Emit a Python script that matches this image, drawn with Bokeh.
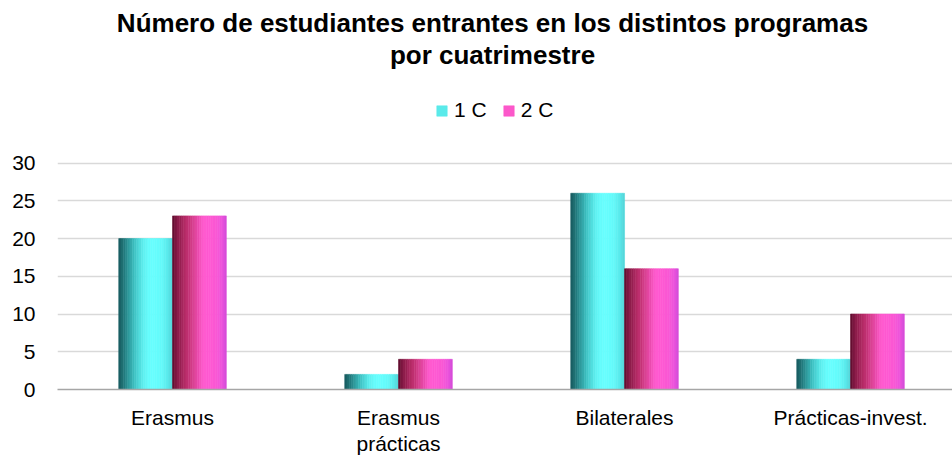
import numpy as np
from bokeh.plotting import figure
from bokeh.models import ColumnDataSource, Range1d, FixedTicker, Label, Legend, LegendItem
from bokeh.transform import dodge
from bokeh.embed import file_html
from bokeh.resources import INLINE

# ---------------- data ----------------
categories = ["Erasmus", "Erasmus\nprácticas", "Bilaterales", "Prácticas-invest."]
series_1c = [20, 2, 26, 4]
series_2c = [23, 4, 16, 10]
series_labels = ["1 C", "2 C"]
y_ticks = [0, 5, 10, 15, 20, 25, 30]
title_line1 = "Número de estudiantes entrantes en los distintos programas"
title_line2 = "por cuatrimestre"

# ---------------- styling ----------------
FONT = "Liberation Sans"
W, H = 952, 457
BORDER_LEFT = 57
PX_PER_X = 226.0
X_START = -0.509
frame_w = W - BORDER_LEFT
X_END = X_START + frame_w / PX_PER_X
FRAME_TOP = 0.0
FRAME_BOTTOM = 390.0
PX_PER_Y = (FRAME_BOTTOM - 163) / 30.0
Y_END = (FRAME_BOTTOM - FRAME_TOP) / PX_PER_Y
TITLE_CX = 492 - BORDER_LEFT

cyan_stops = [(0.00, "#17585c"), (0.10, "#22797c"), (0.28, "#3bbcbe"), (0.45, "#5ceeee"),
              (0.58, "#68ffff"), (0.80, "#64fafa"), (0.92, "#5ae8ea"), (1.00, "#50d2d6")]
mag_stops = [(0.00, "#5a0a28"), (0.08, "#861a46"), (0.25, "#b82c68"), (0.42, "#e0449a"),
             (0.58, "#ff5ad0"), (0.80, "#fc58d4"), (0.93, "#ec54dc"), (1.00, "#cf48d8")]


def hex2rgb(h):
    h = h.lstrip("#")
    return np.array([int(h[i:i + 2], 16) for i in (0, 2, 4)], dtype=float)


def interp(stops, t):
    for (t0, c0), (t1, c1) in zip(stops[:-1], stops[1:]):
        if t0 <= t <= t1:
            f = (t - t0) / (t1 - t0) if t1 > t0 else 0
            c = hex2rgb(c0) * (1 - f) + hex2rgb(c1) * f
            return "#%02x%02x%02x" % tuple(int(round(v)) for v in c)
    return stops[-1][1]


src = ColumnDataSource(dict(x=list(range(len(categories))), c1=series_1c, c2=series_2c))

p = figure(width=W, height=H, output_backend="svg", toolbar_location=None,
           x_range=Range1d(X_START, X_END), y_range=Range1d(0, Y_END),
           min_border_left=BORDER_LEFT, min_border_right=0, min_border_top=0,
           min_border_bottom=0, title=None)
p.outline_line_color = None
p.background_fill_color = "white"
p.border_fill_color = "white"

for text, cy in ((title_line1, 23), (title_line2, 55)):
    p.add_layout(Label(x=TITLE_CX, y=FRAME_BOTTOM - cy, x_units="screen", y_units="screen",
                       text=text, text_align="center", text_baseline="middle",
                       text_font=FONT, text_font_size="26px", text_font_style="bold",
                       text_color="#000000"))

bar_w = 0.238
n_strips = 24
reps = []
for field, stops, off0, rep_t in (("c1", cyan_stops, -bar_w, 0.45), ("c2", mag_stops, 0.0, 0.55)):
    rep = None
    best = 9
    for k in range(n_strips):
        t = (k + 0.5) / n_strips
        col = interp(stops, t)
        off = off0 + (k + 0.5) * bar_w / n_strips
        r = p.vbar(x=dodge("x", off), top=field, bottom=0, width=bar_w / n_strips,
                   fill_color=col, line_color=col, line_width=0.6, source=src)
        if abs(t - rep_t) < best:
            best = abs(t - rep_t)
            rep = r
    reps.append(rep)

legend = Legend(items=[LegendItem(label=series_labels[0], renderers=[reps[0]]),
                       LegendItem(label=series_labels[1], renderers=[reps[1]])],
                orientation="horizontal", location=(378, 267),
                glyph_width=13, glyph_height=13, label_standoff=6, spacing=15,
                padding=0, margin=0, border_line_color=None, background_fill_alpha=0,
                label_text_font=FONT, label_text_font_size="21px", label_text_color="#000000")
p.add_layout(legend)

p.yaxis.ticker = FixedTicker(ticks=y_ticks)
p.ygrid.ticker = FixedTicker(ticks=y_ticks)
p.ygrid.grid_line_color = "#d9d9d9"
p.ygrid.grid_line_width = 1.5
p.xgrid.visible = False
p.yaxis.axis_line_color = None
p.yaxis.major_tick_line_color = None
p.yaxis.minor_tick_line_color = None
p.yaxis.major_label_standoff = 16
p.yaxis.major_label_text_font = FONT
p.yaxis.major_label_text_font_size = "21px"
p.yaxis.major_label_text_color = "#000000"

p.xaxis.ticker = FixedTicker(ticks=list(range(len(categories))))
p.xaxis.major_label_overrides = {i: c for i, c in enumerate(categories)}
p.xaxis.axis_line_color = "#a6a6a6"
p.xaxis.axis_line_width = 1.5
p.xaxis.major_tick_line_color = None
p.xaxis.minor_tick_line_color = None
p.xaxis.major_label_standoff = 10
p.xaxis.major_label_text_line_height = 1.15
p.xaxis.major_label_text_font = FONT
p.xaxis.major_label_text_font_size = "21px"
p.xaxis.major_label_text_color = "#000000"

open("out.html", "w").write(file_html(p, INLINE))
